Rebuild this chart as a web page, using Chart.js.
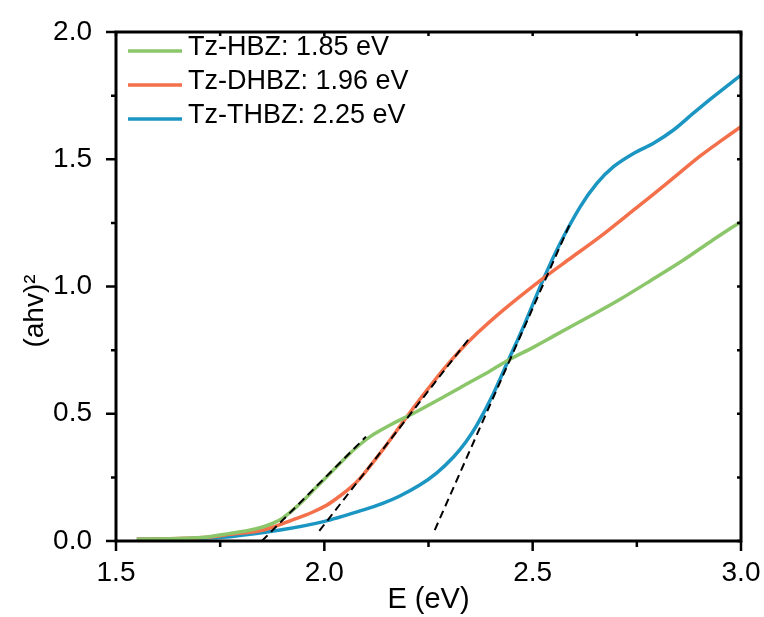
<!DOCTYPE html>
<html>
<head>
<meta charset="utf-8">
<script src="https://cdn.jsdelivr.net/npm/chart.js@4"></script>
<style>
  html, body { margin: 0; padding: 0; background: #fff; }
  #wrap { width: 764px; height: 617px; }
</style>
</head>
<body>
<div id="wrap"><canvas id="tauc"></canvas></div>
<script>
// Tauc plot data
const seriesLabels = ['Tz-HBZ: 1.85 eV', 'Tz-DHBZ: 1.96 eV', 'Tz-THBZ: 2.25 eV'];
const seriesColors = ['#8cc66a', '#f4704a', '#1b95c2'];

const hbzE = [1.55, 1.65, 1.72, 1.774, 1.82, 1.854, 1.877, 1.90, 1.925, 1.95, 1.98, 2.014, 2.062, 2.09, 2.11, 2.135, 2.158, 2.182, 2.206, 2.285, 2.334, 2.398, 2.442, 2.50, 2.55, 2.645, 2.71, 2.78, 2.862, 2.93, 3.0];
const hbzY = [0.007, 0.01, 0.016, 0.03, 0.042, 0.056, 0.07, 0.09, 0.122, 0.16, 0.21, 0.266, 0.345, 0.385, 0.41, 0.435, 0.456, 0.476, 0.495, 0.565, 0.61, 0.668, 0.711, 0.76, 0.805, 0.89, 0.95, 1.02, 1.104, 1.18, 1.255];

const dhbzE = [1.55, 1.65, 1.72, 1.774, 1.854, 1.934, 1.97, 2.006, 2.03, 2.054, 2.075, 2.094, 2.141, 2.19, 2.238, 2.294, 2.35, 2.43, 2.525, 2.59, 2.662, 2.742, 2.822, 2.90, 2.95, 3.0];
const dhbzY = [0.007, 0.01, 0.015, 0.026, 0.043, 0.089, 0.112, 0.141, 0.168, 0.198, 0.228, 0.262, 0.36, 0.47, 0.575, 0.69, 0.79, 0.908, 1.032, 1.11, 1.196, 1.30, 1.405, 1.51, 1.57, 1.628];

const thbzE = [1.55, 1.65, 1.72, 1.774, 1.894, 1.998, 2.094, 2.14, 2.18, 2.229, 2.27, 2.31, 2.34, 2.366, 2.406, 2.442, 2.478, 2.525, 2.566, 2.614, 2.654, 2.694, 2.742, 2.79, 2.838, 2.885, 2.934, 3.0];
const thbzY = [0.007, 0.009, 0.012, 0.017, 0.043, 0.076, 0.122, 0.148, 0.176, 0.22, 0.268, 0.33, 0.39, 0.455, 0.58, 0.711, 0.842, 1.026, 1.17, 1.313, 1.405, 1.471, 1.523, 1.563, 1.615, 1.68, 1.746, 1.831];

// dashed tangent (onset) lines: [start, end]
const fitHbzE = [1.85, 2.10];
const fitHbzY = [0, 0.41];
const fitDhbzE = [1.988, 2.345];
const fitDhbzY = [0.04, 0.79];
const fitThbzE = [2.265, 2.59];
const fitThbzY = [0.043, 1.248];

const xTicks = [1.5, 2.0, 2.5, 3.0];
const yTicks = [0.0, 0.5, 1.0, 1.5, 2.0];

const FONT = '"Liberation Sans", Arial, sans-serif';

function toPoints(xs, ys) {
    return xs.map((x, i) => ({ x: x, y: ys[i] }));
}

function curve(label, color, xs, ys) {
    return {
        label: label,
        data: toPoints(xs, ys),
        borderColor: color,
        borderWidth: 3.5,
        pointRadius: 0,
        tension: 0.3,
        fill: false,
        order: 1
    };
}

function fitLine(xs, ys) {
    return {
        label: '',
        data: toPoints(xs, ys),
        borderColor: '#000',
        borderWidth: 2,
        borderDash: [8, 5],
        pointRadius: 0,
        fill: false,
        order: 0 // drawn over the curves
    };
}

// frame, ticks, legend and y title
const decorPlugin = {
    id: 'decor',
    afterDraw(chart) {
        const ctx = chart.ctx;
        const a = chart.chartArea;
        const xs = chart.scales.x;
        const ys = chart.scales.y;
        ctx.save();
        ctx.strokeStyle = '#000';
        ctx.lineWidth = 3;
        ctx.strokeRect(a.left, a.top, a.right - a.left, a.bottom - a.top);

        ctx.lineWidth = 2.5;
        ctx.beginPath();
        for (let v = 1.5; v <= 3.0001; v += 0.25) {
            const px = xs.getPixelForValue(v);
            const major = Math.abs(v * 2 - Math.round(v * 2)) < 1e-6;
            ctx.moveTo(px, a.bottom);
            ctx.lineTo(px, a.bottom + (major ? 10 : 6));
            ctx.moveTo(px, a.top);
            ctx.lineTo(px, a.top + 4);
        }
        for (let v = 0; v <= 2.0001; v += 0.25) {
            const py = ys.getPixelForValue(v);
            const major = Math.abs(v * 2 - Math.round(v * 2)) < 1e-6;
            ctx.moveTo(a.left, py);
            ctx.lineTo(a.left - (major ? 10 : 5), py);
            ctx.moveTo(a.right, py);
            ctx.lineTo(a.right - 4, py);
        }
        ctx.stroke();

        // legend
        ctx.font = '27px ' + FONT;
        ctx.textBaseline = 'middle';
        ctx.textAlign = 'left';
        seriesLabels.forEach((lab, i) => {
            const y = a.top + 19 + i * 34;
            ctx.strokeStyle = seriesColors[i];
            ctx.lineWidth = 3.5;
            ctx.beginPath();
            ctx.moveTo(a.left + 12, y);
            ctx.lineTo(a.left + 66, y);
            ctx.stroke();
            ctx.fillStyle = '#000';
            ctx.fillText(lab, a.left + 72, y - 3);
        });

        // y axis title
        ctx.translate(35, 311);
        ctx.rotate(-Math.PI / 2);
        ctx.textAlign = 'center';
        ctx.font = '28px ' + FONT;
        ctx.fillText('(ahv)²', 0, 0);
        ctx.restore();
    }
};

new Chart(document.getElementById('tauc'), {
    type: 'line',
    data: {
        datasets: [
            curve(seriesLabels[0], seriesColors[0], hbzE, hbzY),
            curve(seriesLabels[1], seriesColors[1], dhbzE, dhbzY),
            curve(seriesLabels[2], seriesColors[2], thbzE, thbzY),
            fitLine(fitHbzE, fitHbzY),
            fitLine(fitDhbzE, fitDhbzY),
            fitLine(fitThbzE, fitThbzY)
        ]
    },
    options: {
        responsive: true,
        maintainAspectRatio: false,
        animation: false,
        layout: { padding: { top: 32, right: 23, left: 0, bottom: 0 } },
        plugins: {
            legend: { display: false },
            tooltip: { enabled: false }
        },
        scales: {
            x: {
                type: 'linear',
                min: 1.5,
                max: 3.0,
                afterFit: s => { s.height = 76; s.paddingLeft = 0; s.paddingRight = 0; },
                afterBuildTicks: s => { s.ticks = xTicks.map(v => ({ value: v })); },
                grid: { display: false },
                border: { display: false },
                ticks: {
                    padding: 7,
                    color: '#000',
                    font: { family: FONT, size: 28 },
                    callback: v => v.toFixed(1)
                },
                title: {
                    display: true,
                    text: 'E (eV)',
                    color: '#000',
                    font: { family: FONT, size: 29 },
                    padding: { top: 0, bottom: 0 }
                }
            },
            y: {
                type: 'linear',
                min: 0,
                max: 2.0,
                afterFit: s => { s.width = 116; s.paddingTop = 0; s.paddingBottom = 0; },
                afterBuildTicks: s => { s.ticks = yTicks.map(v => ({ value: v })); },
                grid: { display: false },
                border: { display: false },
                ticks: {
                    padding: 16,
                    color: '#000',
                    font: { family: FONT, size: 28 },
                    callback: v => v.toFixed(1)
                }
            }
        }
    },
    plugins: [decorPlugin]
});
</script>
</body>
</html>
